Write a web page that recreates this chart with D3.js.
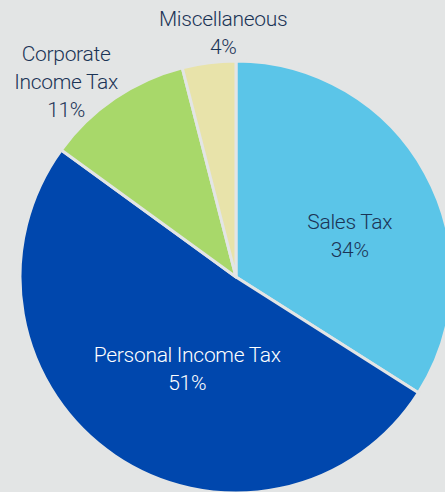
<!DOCTYPE html>
<html>
<head>
<meta charset="utf-8">
<script src="https://cdn.jsdelivr.net/npm/d3@7"></script>
<style>
  html, body { margin: 0; padding: 0; background: #e3e5e5; }
  svg { display: block; }
  text { font-family: Roboto, "Open Sans", sans-serif; font-weight: 300; font-size: 21px; letter-spacing: -0.3px; }
</style>
</head>
<body>
<svg id="chart" width="445" height="492"></svg>
<script>
// Revenue sources, clockwise from 12 o'clock
const categories = ["Sales Tax", "Personal Income Tax", "Corporate Income Tax", "Miscellaneous"];
const values = [34, 51, 11, 4];
const labelLines = [["Sales Tax"], ["Personal Income Tax"], ["Corporate", "Income Tax"], ["Miscellaneous"]];
const colors = ["#5bc5e8", "#0047ad", "#a8d86a", "#e8e3aa"];

const svg = d3.select("#chart");
const cx = 236, cy = 277, radius = 216;
const bg = "#e3e5e5";

const pie = d3.pie().sort(null).value(d => d.value);
const arc = d3.arc().innerRadius(0).outerRadius(radius);

const data = categories.map((c, i) => ({ name: c, value: values[i], lines: labelLines[i], color: colors[i] }));
const arcs = pie(data);

const g = svg.append("g").attr("transform", `translate(${cx},${cy})`);

g.selectAll("path.slice")
    .data(arcs)
    .join("path")
    .attr("class", "slice")
    .attr("d", arc)
    .attr("fill", d => d.data.color)
    .attr("stroke", bg)
    .attr("stroke-width", 3)
    .attr("stroke-linejoin", "round");

// --- Labels: big slices inside, small slices outside above the pie ---
const labelPlace = {
    "Sales Tax": { r: 121, a: 70, fill: "#1b3456" },
    "Personal Income Tax": { r: 104, a: 208, fill: "#ffffff" },
    "Corporate Income Tax": { r: 259, a: 319, fill: "#1b3456" },
    "Miscellaneous": { r: 245, a: 357, fill: "#1b3456" }
};
const lineH = 28;

arcs.forEach(d => {
    const p = labelPlace[d.data.name];
    const rad = p.a * Math.PI / 180;
    const x = p.r * Math.sin(rad), y = -p.r * Math.cos(rad);
    const lines = d.data.lines.concat([d.data.value + "%"]);
    const t = g.append("text")
        .attr("text-anchor", "middle")
        .attr("fill", p.fill)
        .attr("x", x)
        .attr("y", y - (lines.length - 1) * lineH / 2);
    lines.forEach((ln, i) => {
        t.append("tspan")
            .attr("x", x)
            .attr("dy", i === 0 ? "0.35em" : lineH)
            .text(ln);
    });
});
</script>
</body>
</html>
